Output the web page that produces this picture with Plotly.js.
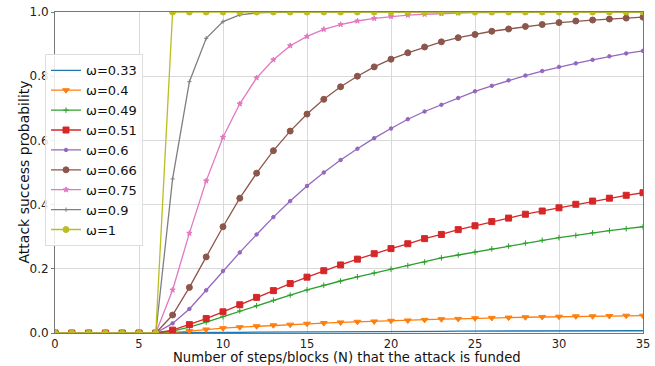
<!DOCTYPE html>
<html><head><meta charset="utf-8">
<script src="https://cdn.plot.ly/plotly-3.0.1.min.js"></script>
<style>html,body{margin:0;padding:0;background:#fff}#chart{width:655px;height:366px}</style>
</head><body><div id="chart"></div>
<script>
const N = [0,1,2,3,4,5,6,7,8,9,10,11,12,13,14,15,16,17,18,19,20,21,22,23,24,25,26,27,28,29,30,31,32,33,34,35];
const zeros7 = [0,0,0,0,0,0,0];
const w033 = zeros7.concat([0.001,0.001,0.002,0.002,0.002,0.003,0.003,0.003,0.004,0.004,0.004,0.004,0.005,0.005,0.005,0.005,0.005,0.006,0.006,0.006,0.006,0.006,0.006,0.007,0.007,0.007,0.007,0.007,0.007]);
const w040 = zeros7.concat([0.002,0.006,0.011,0.015,0.018,0.021,0.024,0.026,0.029,0.031,0.033,0.035,0.036,0.038,0.039,0.041,0.043,0.044,0.046,0.047,0.048,0.049,0.050,0.051,0.052,0.052,0.053,0.054,0.054]);
const w049 = zeros7.concat([0.006,0.018,0.034,0.051,0.069,0.085,0.102,0.118,0.134,0.149,0.162,0.175,0.187,0.199,0.210,0.221,0.234,0.243,0.252,0.262,0.271,0.280,0.289,0.297,0.304,0.312,0.319,0.325,0.331]);
const w051 = zeros7.concat([0.009,0.026,0.045,0.066,0.088,0.111,0.132,0.154,0.174,0.194,0.212,0.230,0.247,0.263,0.278,0.294,0.307,0.322,0.334,0.347,0.358,0.370,0.380,0.390,0.401,0.411,0.420,0.429,0.437]);
const w060 = zeros7.concat([0.030,0.075,0.133,0.193,0.251,0.307,0.361,0.411,0.458,0.500,0.539,0.574,0.607,0.637,0.666,0.690,0.711,0.732,0.753,0.770,0.787,0.802,0.816,0.829,0.840,0.851,0.862,0.871,0.879]);
const w066 = zeros7.concat([0.056,0.142,0.237,0.331,0.420,0.498,0.568,0.629,0.682,0.728,0.767,0.800,0.829,0.853,0.873,0.891,0.907,0.920,0.930,0.940,0.947,0.955,0.961,0.967,0.972,0.975,0.978,0.981,0.984]);
const w075 = zeros7.concat([0.134,0.311,0.474,0.610,0.714,0.795,0.851,0.895,0.924,0.946,0.961,0.972,0.980,0.986,0.990,0.993,0.995,0.997,0.998,0.998,0.999,0.999,0.999,1.0,1.0,1.0,1.0,1.0,1.0]);
const w090 = zeros7.concat([0.480,0.783,0.918,0.970,0.991,0.997,0.999,1.0,1.0,1.0,1.0,1.0,1.0,1.0,1.0,1.0,1.0,1.0,1.0,1.0,1.0,1.0,1.0,1.0,1.0,1.0,1.0,1.0,1.0]);
const w100 = zeros7.concat([1,1,1,1,1,1,1,1,1,1,1,1,1,1,1,1,1,1,1,1,1,1,1,1,1,1,1,1,1]);
const names = ['ω=0.33','ω=0.4','ω=0.49','ω=0.51','ω=0.6','ω=0.66','ω=0.75','ω=0.9','ω=1'];
const xTicks = [0,5,10,15,20,25,30,35];
const yTicks = [0,0.2,0.4,0.6,0.8,1.0];
const xTitle = 'Number of steps/blocks (N) that the attack is funded';
const yTitle = 'Attack success probability';

const series = [w033,w040,w049,w051,w060,w066,w075,w090,w100];
const colors = ['#1f77b4','#ff7f0e','#2ca02c','#d62728','#9467bd','#8c564b','#e377c2','#7f7f7f','#bcbd22'];
const syms = ['circle','triangle-down','cross-thin','square','circle','circle','star','cross-thin','circle'];
const sizes = [0,6,4,6,3.5,6,4,3,6];
const traces = series.map((y,i)=>({
  x:N, y:y, name:names[i], type:'scatter',
  mode: i===0 ? 'lines' : 'lines+markers',
  line:{color:colors[i], width:1.3},
  marker:{symbol:syms[i], size:sizes[i], color:colors[i], line:{color:colors[i], width:1}}
}));
const layout = {
  width:655, height:366,
  margin:{l:55, r:12, t:12, b:33},
  paper_bgcolor:'#fff', plot_bgcolor:'#fff',
  font:{family:'DejaVu Sans', size:12, color:'#222'},
  showlegend:true,
  legend:{x:-0.017, y:0.868, xanchor:'left', yanchor:'top', bgcolor:'rgba(255,255,255,0.85)',
    bordercolor:'#dddddd', borderwidth:1, font:{size:13, family:'DejaVu Sans', color:'#111'}, tracegroupgap:0},
  xaxis:{range:[0,35], tickvals:xTicks, ticktext:xTicks.map(String),
    showgrid:true, gridcolor:'#d9d9d9', gridwidth:1, zeroline:false,
    showline:true, linecolor:'#777', linewidth:1, mirror:true, ticks:'outside', ticklen:0, tickcolor:'#777',
    tickfont:{size:11.5}},
  yaxis:{range:[0,1], tickvals:yTicks, ticktext:yTicks.map(v=>v.toFixed(1)),
    showgrid:true, gridcolor:'#d9d9d9', gridwidth:1, zeroline:false,
    showline:true, linecolor:'#777', linewidth:1, mirror:true, ticks:'outside', ticklen:3, tickcolor:'#777',
    tickfont:{size:12}},
  annotations:[
    {text:xTitle, xref:'paper', yref:'paper', x:0.497, y:-0.076, xanchor:'center', yanchor:'middle',
     showarrow:false, font:{size:13.2, color:'#111'}},
    {text:yTitle, xref:'paper', yref:'paper', x:-0.0544, y:0.5, xanchor:'center', yanchor:'middle',
     textangle:-90, showarrow:false, font:{size:14, color:'#111'}}
  ]
};
Plotly.newPlot('chart', traces, layout, {displayModeBar:false, staticPlot:true});
</script></body></html>
